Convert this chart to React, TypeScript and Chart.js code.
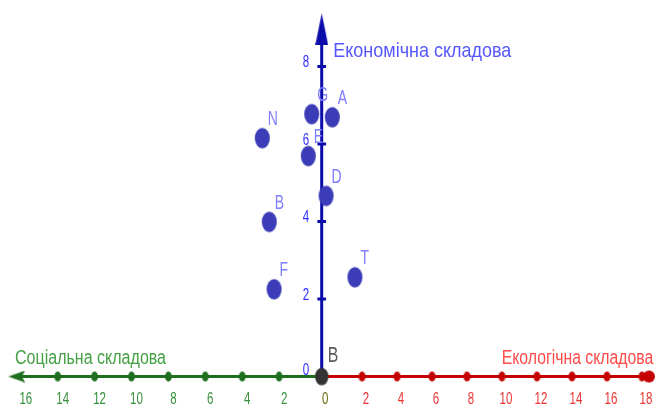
import React, { useEffect, useRef } from 'react';
import { Chart, registerables } from 'chart.js';

Chart.register(...registerables);

// Economic component (vertical axis)
const ECON_TICKS = [2, 4, 6, 8];
const ECON_LABELS = [0, 2, 4, 6, 8];
const ECON_ARROW = 8.96;
// Social component (left half of horizontal axis)
const SOCIAL_TICKS = [2, 4, 6, 8, 10, 12, 14];
const SOCIAL_LABELS = [2, 4, 6, 8, 10, 12, 14, 16];
const SOCIAL_ARROW = 16.22;
// Ecological component (right half of horizontal axis)
const ECO_TICKS = [2, 4, 6, 8, 10, 12, 14, 16, 18];
const ECO_LABELS = [2, 4, 6, 8, 10, 12, 14, 16, 18];
const ECO_ARROW = 18.4;
// Points
const POINT_NAMES = ['G', 'A', 'N', 'E', 'D', 'B', 'F', 'T'];
const POINT_X = [-0.5, 0.53, -2.97, -0.67, 0.22, -2.62, -2.38, 1.66];
const POINT_Y = [6.77, 6.69, 6.15, 5.69, 4.66, 3.99, 2.25, 2.56];
const ORIGIN_NAME = 'B';
const TITLE_ECON = 'Економічна складова';
const TITLE_SOCIAL = 'Соціальна складова';
const TITLE_ECO = 'Екологічна складова';

const FONT = "'Liberation Sans', Arial, sans-serif";
const BLUE = '#0c0caa';
const GREEN = '#1d6e1d';
const RED = '#c40000';

function makeEllipse(rx: number, ry: number, color: string) {
  const c = document.createElement('canvas');
  c.width = Math.ceil(rx * 2) + 2;
  c.height = Math.ceil(ry * 2) + 2;
  const g = c.getContext('2d')!;
  g.fillStyle = color;
  g.beginPath();
  g.ellipse(c.width / 2, c.height / 2, rx, ry, 0, 0, Math.PI * 2);
  g.fill();
  return c;
}

function makeArrowUp(w: number, h: number, color: string) {
  const c = document.createElement('canvas');
  c.width = w;
  c.height = h;
  const g = c.getContext('2d')!;
  g.fillStyle = color;
  g.beginPath();
  g.moveTo(w / 2, 0);
  g.lineTo(w, h);
  g.lineTo(0, h);
  g.closePath();
  g.fill();
  return c;
}

function makeArrowLeft(w: number, h: number, color: string) {
  const c = document.createElement('canvas');
  c.width = w;
  c.height = h;
  const g = c.getContext('2d')!;
  g.fillStyle = color;
  g.beginPath();
  g.moveTo(0, h / 2);
  g.lineTo(w, 0);
  g.lineTo(w * 0.8, h / 2);
  g.lineTo(w, h);
  g.closePath();
  g.fill();
  return c;
}

function drawText(
  ctx: CanvasRenderingContext2D,
  text: string,
  x: number,
  y: number,
  font: string,
  color: string,
  align: CanvasTextAlign,
  sx: number
) {
  ctx.save();
  ctx.font = font;
  ctx.fillStyle = color;
  ctx.textBaseline = 'alphabetic';
  ctx.textAlign = align;
  ctx.translate(x, y);
  ctx.scale(sx, 1);
  ctx.fillText(text, 0, 0);
  ctx.restore();
}

const labelPlugin = {
  id: 'geoLabels',
  afterDatasetsDraw(chart: any) {
    const ctx: CanvasRenderingContext2D = chart.ctx;
    const sx = chart.scales.x;
    const sxl = chart.scales.xl;
    const sxr = chart.scales.xr;
    const sy = chart.scales.y;
    const ox = sx.getPixelForValue(0);
    const oy = sy.getPixelForValue(0);

    // point labels
    const meta = chart.getDatasetMeta(1);
    meta.data.forEach((p: any, i: number) => {
      drawText(ctx, POINT_NAMES[i], p.x + 5.5, p.y - 13, `20px ${FONT}`, '#7e7eff', 'left', 0.7);
    });
    // origin label
    drawText(ctx, ORIGIN_NAME, ox + 6, oy - 15, `22px ${FONT}`, '#5a5a5a', 'left', 0.72);

    // vertical axis labels
    ECON_LABELS.forEach((v) => {
      const y = sy.getPixelForValue(v) + (v === 0 ? -1.5 : 1);
      drawText(ctx, String(v), ox - 12.5, y, `17px ${FONT}`, '#2e2eff', 'right', 0.68);
    });

    // bottom labels
    const by = oy + 27.5;
    SOCIAL_LABELS.forEach((v) => {
      drawText(ctx, String(v), sxl.getPixelForValue(-v) + 5, by, `16px ${FONT}`, '#37913a', 'center', 0.72);
    });
    ECO_LABELS.forEach((v) => {
      drawText(ctx, String(v), sxr.getPixelForValue(v) + 4, by, `16px ${FONT}`, '#ea3535', 'center', 0.72);
    });
    drawText(ctx, '0', ox + 3.5, by, `16px ${FONT}`, '#6b6b10', 'center', 0.72);

    // titles
    ctx.save();
    ctx.textBaseline = 'alphabetic';
    ctx.textAlign = 'left';
    ctx.font = `21px ${FONT}`;
    ctx.fillStyle = '#5656ff';
    ctx.fillText(TITLE_ECON, ox + 11.6, sy.getPixelForValue(ECON_ARROW) + 27.5, 178);
    ctx.font = `20px ${FONT}`;
    ctx.fillStyle = '#45a045';
    ctx.fillText(TITLE_SOCIAL, sxl.getPixelForValue(-SOCIAL_ARROW) - 1.7, oy - 12.5, 151);
    ctx.fillStyle = '#ff4a4a';
    ctx.fillText(TITLE_ECO, sxr.getPixelForValue(ECO_ARROW) - 147.3, oy - 12.5, 151.6);
    ctx.restore();
  },
};

export default function App() {
  const ref = useRef<HTMLCanvasElement>(null);

  useEffect(() => {
    const canvas = ref.current!;
    const pointImg = makeEllipse(7.5, 10.3, '#3c3cb8');
    const originImg = makeEllipse(6.7, 8.7, '#333333');
    const greenDot = makeEllipse(3.4, 4.9, GREEN);
    const redDot = makeEllipse(3.5, 5, RED);
    const redEnd = makeEllipse(6, 6, RED);
    const arrowUp = makeArrowUp(13, 32, BLUE);
    const arrowLeft = makeArrowLeft(17, 12, GREEN);

    const econData = [{ x: 0, y: 0 }, ...ECON_TICKS.map((v) => ({ x: 0, y: v })), { x: 0, y: ECON_ARROW }];
    const socialData = [
      { x: -SOCIAL_ARROW, y: 0 },
      ...SOCIAL_TICKS.slice().reverse().map((v) => ({ x: -v, y: 0 })),
      { x: 0, y: 0 },
    ];
    const ecoData = [{ x: 0, y: 0 }, ...ECO_TICKS.map((v) => ({ x: v, y: 0 })), { x: ECO_ARROW, y: 0 }];

    const chart = new Chart(canvas, {
      type: 'scatter',
      data: {
        datasets: [
          {
            data: [{ x: 0, y: 0 }],
            xAxisID: 'x',
            yAxisID: 'y',
            pointStyle: originImg as any,
            pointRadius: 6,
            showLine: false,
            clip: false as any,
          },
          {
            data: POINT_X.map((x, i) => ({ x, y: POINT_Y[i] })),
            xAxisID: 'x',
            yAxisID: 'y',
            pointStyle: pointImg as any,
            pointRadius: 7,
            showLine: false,
            clip: false as any,
          },
          {
            data: econData,
            xAxisID: 'x',
            yAxisID: 'y',
            showLine: true,
            borderColor: BLUE,
            borderWidth: 3,
            pointStyle: ((c: any) => (c.dataIndex === econData.length - 1 ? arrowUp : 'line')) as any,
            pointRadius: ((c: any) => (c.dataIndex === 0 ? 0 : 4.3)) as any,
            pointBorderColor: BLUE,
            pointBackgroundColor: BLUE,
            pointBorderWidth: 3,
            clip: false as any,
          },
          {
            data: socialData,
            xAxisID: 'xl',
            yAxisID: 'y',
            showLine: true,
            borderColor: GREEN,
            borderWidth: 3,
            pointStyle: ((c: any) => (c.dataIndex === 0 ? arrowLeft : greenDot)) as any,
            pointRadius: ((c: any) => (c.dataIndex === socialData.length - 1 ? 0 : 4)) as any,
            clip: false as any,
          },
          {
            data: ecoData,
            xAxisID: 'xr',
            yAxisID: 'y',
            showLine: true,
            borderColor: RED,
            borderWidth: 3,
            pointStyle: ((c: any) => (c.dataIndex === ecoData.length - 1 ? redEnd : redDot)) as any,
            pointRadius: ((c: any) => (c.dataIndex === 0 ? 0 : 4)) as any,
            clip: false as any,
          },
        ],
      },
      options: {
        animation: false,
        responsive: false,
        events: [],
        layout: { padding: 0, autoPadding: false } as any,
        plugins: { legend: { display: false }, tooltip: { enabled: false } },
        scales: {
          x: { type: 'linear', display: false, min: -16.085, max: 16.665 },
          xl: { type: 'linear', display: false, min: -17.127, max: 18.374, axis: 'x' } as any,
          xr: { type: 'linear', display: false, min: -18.686, max: 18.743, axis: 'x' } as any,
          y: { type: 'linear', display: false, min: -0.8645, max: 9.716 },
        },
      },
      plugins: [labelPlugin],
    });

    return () => chart.destroy();
  }, []);

  return (
    <canvas
      ref={ref}
      width={655}
      height={410}
      style={{ position: 'fixed', left: 0, top: 0, width: 655, height: 410, display: 'block', background: '#fff' }}
    />
  );
}
